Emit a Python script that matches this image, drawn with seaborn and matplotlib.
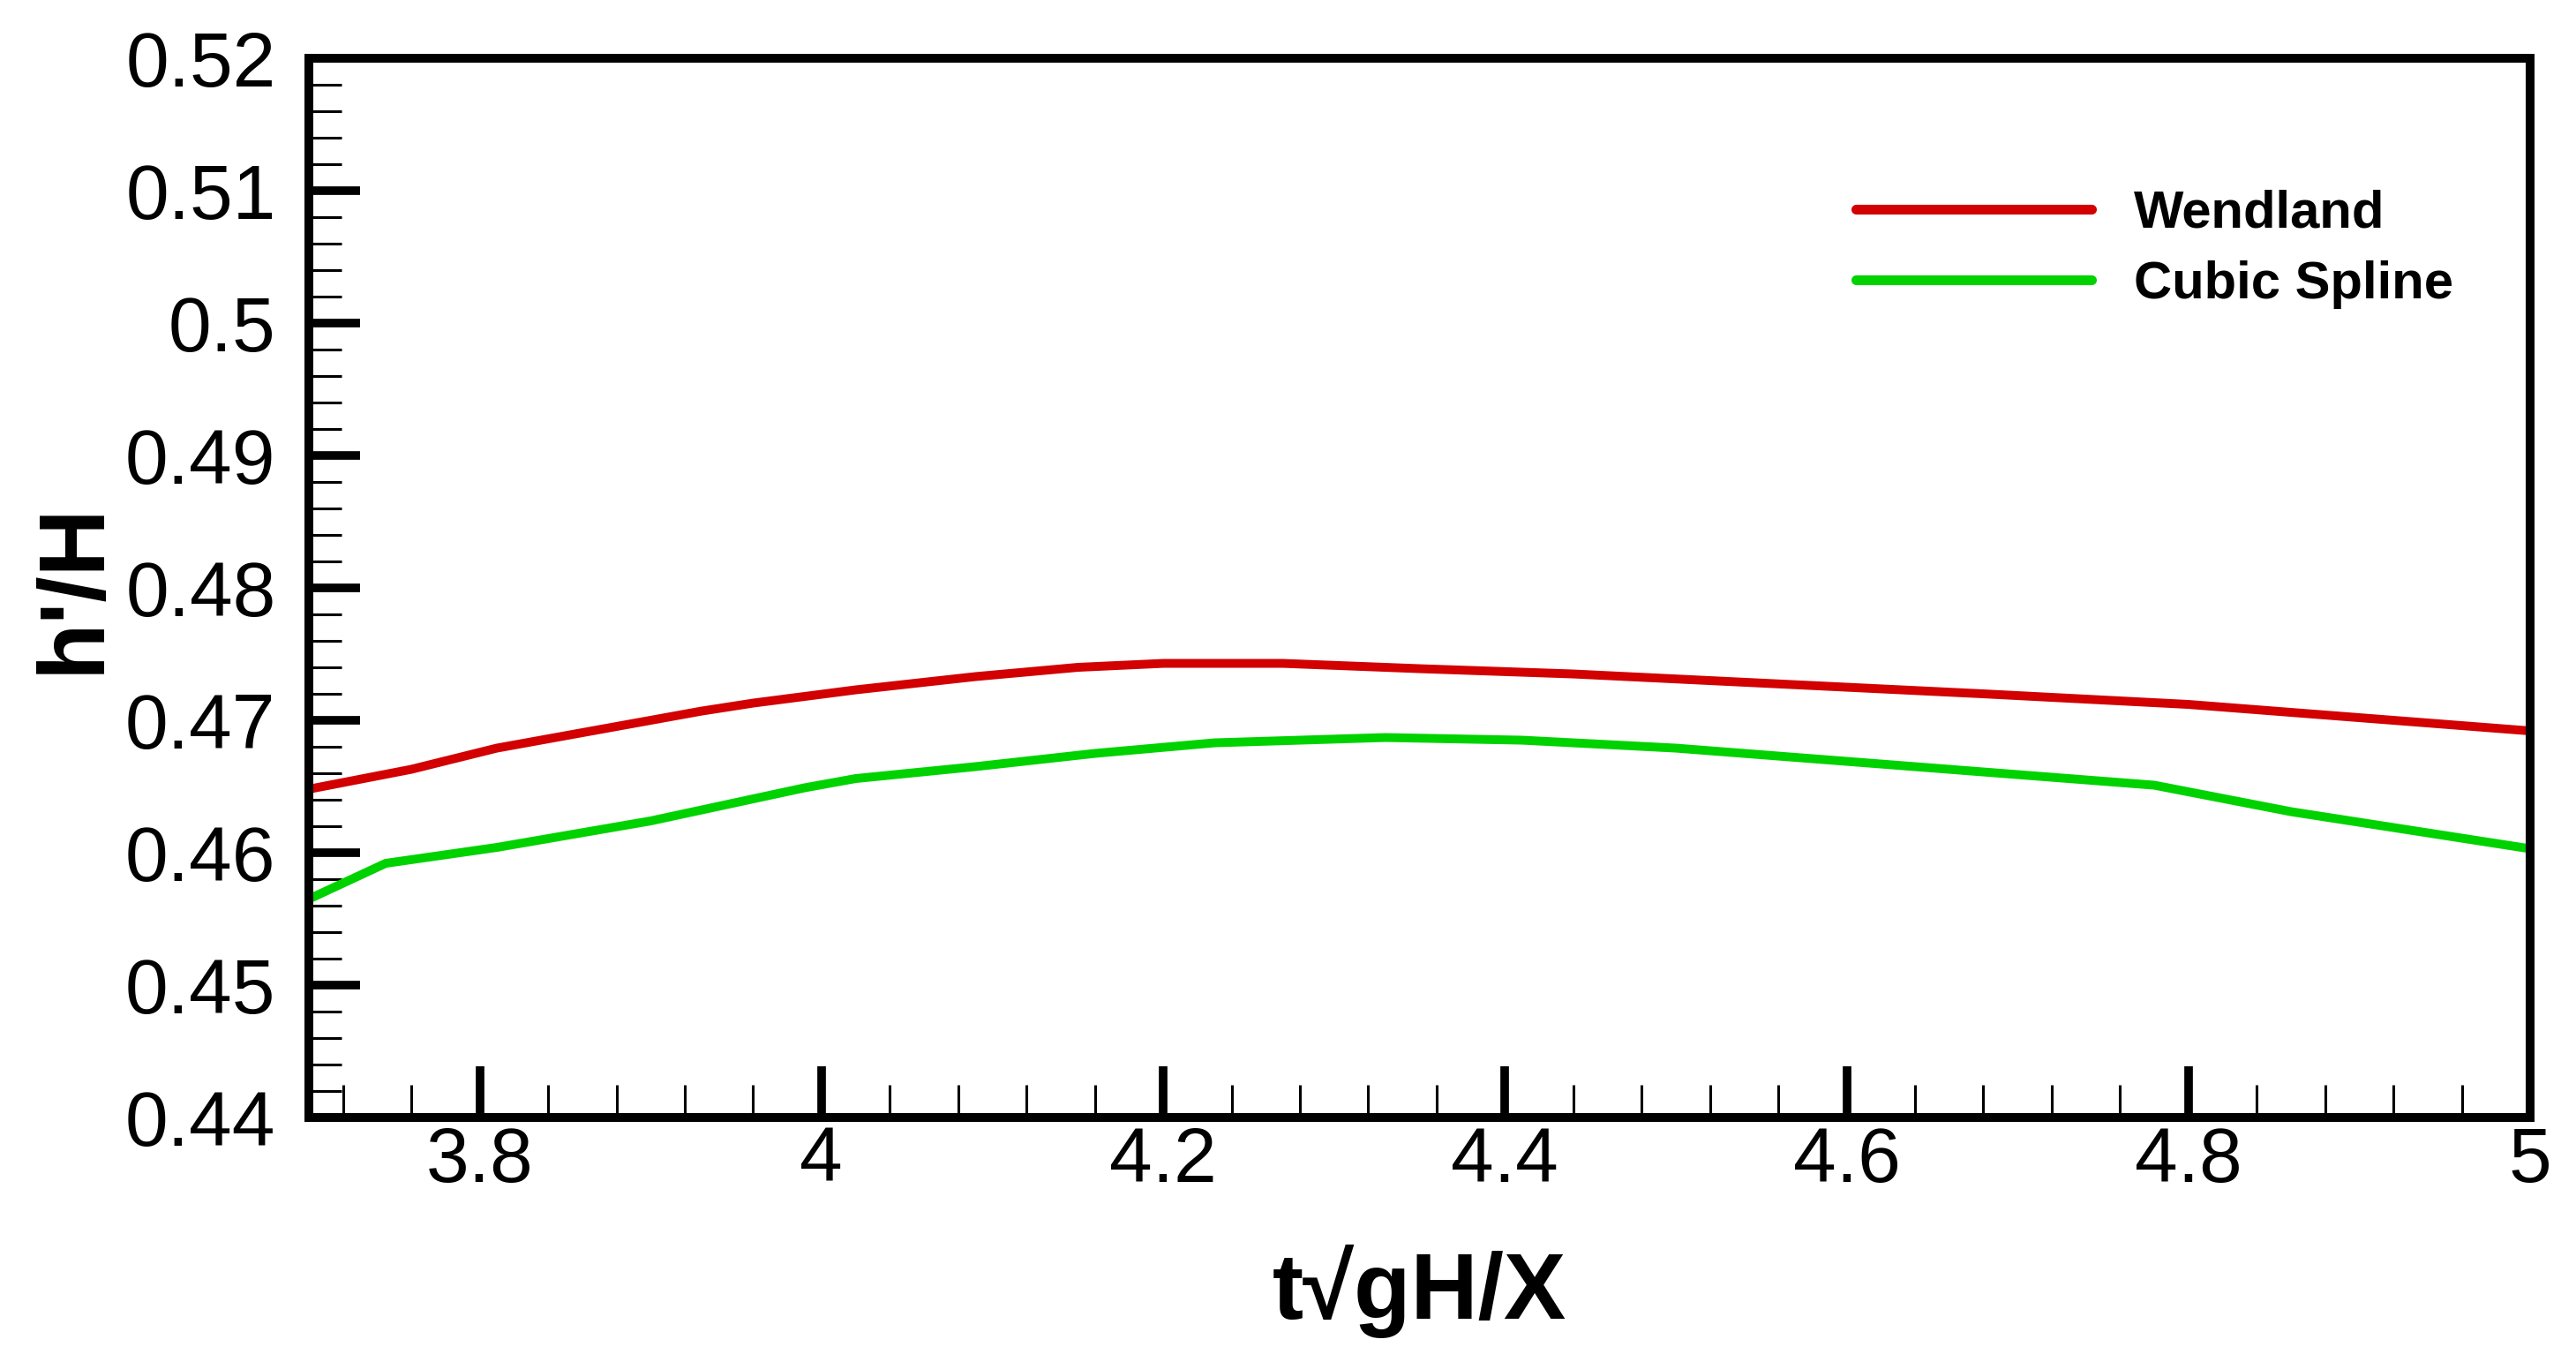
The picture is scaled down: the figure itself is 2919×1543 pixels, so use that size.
import numpy as np
import pandas as pd
import matplotlib
matplotlib.use("Agg")
import matplotlib.pyplot as plt
import seaborn as sns
from matplotlib.ticker import MultipleLocator, FixedLocator, FuncFormatter

# ---- data ----
series_names = ["Wendland", "Cubic Spline"]
series_colors = ["#d20000", "#00d200"]

wendland_t = [3.70, 3.76, 3.81, 3.87, 3.93, 3.96, 4.02, 4.09, 4.15, 4.20, 4.27,
              4.35, 4.44, 4.52, 4.60, 4.68, 4.80, 4.89, 5.00]
wendland_h = [0.4648, 0.4663, 0.4679, 0.4693, 0.4707, 0.4713, 0.4723, 0.4733,
              0.4740, 0.4743, 0.4743, 0.4739, 0.4735, 0.4730, 0.4725, 0.4720,
              0.4712, 0.4703, 0.4692]

cubic_t = [3.70, 3.745, 3.81, 3.90, 3.99, 4.02, 4.09, 4.16, 4.23, 4.33, 4.41,
           4.50, 4.60, 4.68, 4.78, 4.86, 4.92, 5.00]
cubic_h = [0.4565, 0.4592, 0.4604, 0.4624, 0.4649, 0.4656, 0.4665, 0.4675,
           0.4683, 0.4687, 0.4685, 0.4679, 0.4669, 0.4661, 0.4651, 0.4631,
           0.4619, 0.4603]

x_ticks = [3.8, 4.0, 4.2, 4.4, 4.6, 4.8, 5.0]
y_ticks = [0.44, 0.45, 0.46, 0.47, 0.48, 0.49, 0.50, 0.51, 0.52]
x_label = "t\u221agH/X"
y_label = "h'/H"

df = pd.concat([
    pd.DataFrame({"t": wendland_t, "h": wendland_h, "series": series_names[0]}),
    pd.DataFrame({"t": cubic_t, "h": cubic_h, "series": series_names[1]}),
], ignore_index=True)

sns.set_theme(style="ticks")
plt.rcParams["font.family"] = ["Liberation Sans", "DejaVu Sans"]
plt.rcParams["text.color"] = "black"
plt.rcParams["axes.labelcolor"] = "black"

fig = plt.figure(figsize=(29.19, 15.43), dpi=100)
ax = fig.add_axes([0.1199, 0.1795, 0.8623, 0.7777])

sns.lineplot(data=df, x="t", y="h", hue="series", hue_order=series_names,
             palette=dict(zip(series_names, series_colors)), linewidth=7.2,
             estimator=None, sort=False, ax=ax, legend=True)

ax.set_xlim(3.7, 5.0)
ax.set_ylim(0.44, 0.52)
ax.xaxis.set_major_locator(FixedLocator(x_ticks))
ax.yaxis.set_major_locator(FixedLocator(y_ticks))
ax.xaxis.set_minor_locator(MultipleLocator(0.04))
ax.yaxis.set_minor_locator(MultipleLocator(0.002))
fmt = FuncFormatter(lambda v, p: ("%.2f" % v).rstrip("0").rstrip("."))
ax.xaxis.set_major_formatter(fmt)
ax.yaxis.set_major_formatter(fmt)

for s in ax.spines.values():
    s.set_visible(True)
    s.set_linewidth(7.2)
    s.set_color("black")

ax.tick_params(which="both", direction="in", top=False, right=False,
               color="black", labelcolor="black")
ax.tick_params(which="major", length=42, width=7, labelsize=63)
ax.tick_params(which="minor", length=26.5, width=2.2)
ax.tick_params(axis="x", which="major", pad=7)
ax.tick_params(axis="y", which="major", pad=27)

ax.set_xlabel(x_label, fontsize=76, fontweight="bold", color="black")
ax.set_ylabel(y_label, fontsize=76, fontweight="bold", color="black")
ax.xaxis.set_label_coords(0.5, -0.12)
ax.yaxis.set_label_coords(-0.086, 0.5)

handles, labels = ax.get_legend_handles_labels()
leg = ax.legend(handles, labels, loc="upper left", bbox_to_anchor=(0.6965, 0.876),
                frameon=False, prop=dict(weight="bold", size=43),
                handlelength=4.47, handletextpad=0.8, borderpad=0,
                borderaxespad=0, labelspacing=0.42)
for line in leg.get_lines():
    line.set_linewidth(8)
for t in leg.get_texts():
    t.set_color("black")

fig.savefig("out.png", dpi=100, facecolor="white")
